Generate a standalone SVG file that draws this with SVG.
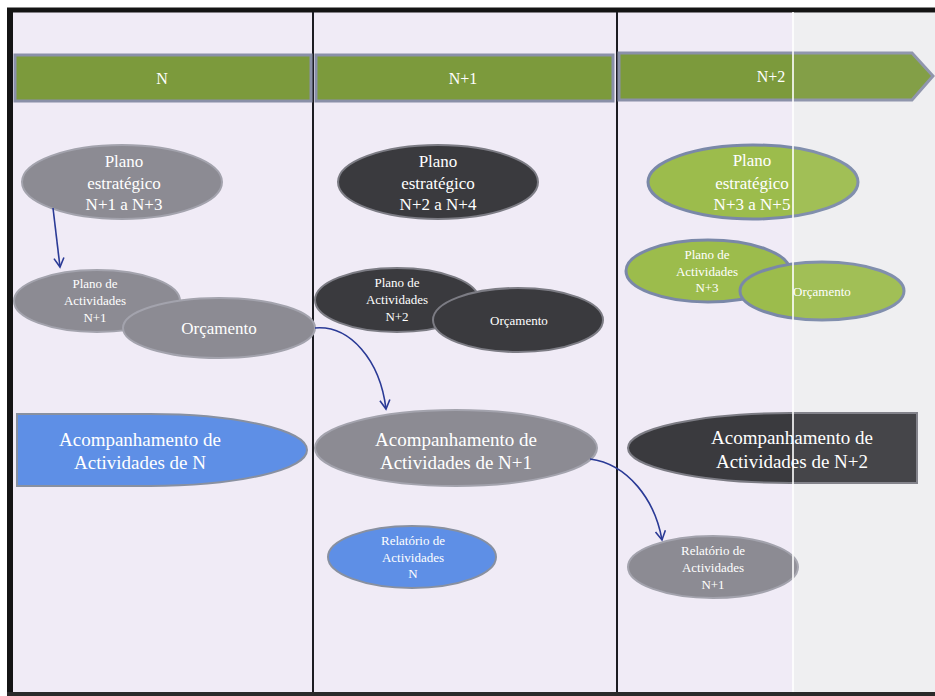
<svg xmlns="http://www.w3.org/2000/svg" width="935" height="696" viewBox="0 0 935 696">
  <defs>
    <style>
      .bg { fill: #f0ebf6; }
      .band { fill: #7c9a3c; stroke: #8a90a8; stroke-width: 3; }
      .lane { stroke: #1c1c22; stroke-width: 2; }
      .gray { fill: #8c8b93; stroke: #a3a3ad; stroke-width: 2; }
      .dark { fill: #3a3a3e; stroke: #7c7c84; stroke-width: 2; }
      .green { fill: #9cbc4c; stroke: #7a88a8; stroke-width: 3; }
      .blue { fill: #5e8fe6; stroke: #8890a0; stroke-width: 2; }
      .t { font-family: "Liberation Serif", "DejaVu Serif", "Times New Roman", serif; fill: #ffffff; text-anchor: middle; }
      .h { font-size: 16px; }
      .l { font-size: 17px; }
      .m { font-size: 13px; }
      .x { font-size: 19px; }
      .conn { fill: none; stroke: #2a3a96; stroke-width: 1.6; }
    </style>
    <marker id="open" viewBox="0 0 12 12" refX="10" refY="6" markerWidth="12" markerHeight="12" markerUnits="userSpaceOnUse" orient="auto">
      <path d="M1,1 L10,6 L1,11" fill="none" stroke="#2a3a96" stroke-width="1.6"/>
    </marker>
  </defs>

  <!-- page and frame -->
  <rect x="0" y="0" width="935" height="696" fill="#ffffff"/>
  <rect class="bg" x="10" y="10" width="925" height="684"/>
  <rect x="793" y="12" width="142" height="680" fill="#eeeff1"/>
  <line x1="7" y1="10" x2="935" y2="10" stroke="#141414" stroke-width="5"/>
  <line x1="10" y1="8" x2="10" y2="696" stroke="#141414" stroke-width="6"/>
  <line x1="7" y1="694" x2="935" y2="694" stroke="#2a2a2a" stroke-width="4"/>

  <!-- swimlane separators -->
  <line class="lane" x1="313" y1="12" x2="313" y2="692"/>
  <line class="lane" x1="617" y1="12" x2="617" y2="692"/>

  <!-- year bands -->
  <g id="band-n">
    <rect class="band" x="15" y="55" width="296" height="46"/>
    <text class="t h" x="162" y="84">N</text>
  </g>
  <g id="band-n1">
    <rect class="band" x="316" y="55" width="297" height="46"/>
    <text class="t h" x="463" y="84">N+1</text>
  </g>
  <g id="band-n2">
    <path class="band" d="M619,53 H912 L933,76 L912,100 H619 Z"/>
    <text class="t h" x="771" y="82">N+2</text>
  </g>

  <!-- year N -->
  <g id="plano-estrategico-n">
    <ellipse class="gray" cx="122" cy="182" rx="100" ry="37"/>
    <text class="t l" x="124" y="167">Plano</text>
    <text class="t l" x="124" y="189">estratégico</text>
    <text class="t l" x="124" y="210">N+1 a N+3</text>
  </g>
  <g id="plano-actividades-n">
    <ellipse class="gray" cx="97" cy="301" rx="83" ry="31"/>
    <text class="t m" x="95" y="288">Plano de</text>
    <text class="t m" x="95" y="305">Actividades</text>
    <text class="t m" x="95" y="322">N+1</text>
  </g>
  <g id="orcamento-n">
    <ellipse class="gray" cx="219" cy="328" rx="96" ry="30"/>
    <text class="t l" x="219" y="334">Orçamento</text>
  </g>
  <g id="acompanhamento-n">
    <path class="blue" d="M17,414 H150 A157,36 0 0 1 150,486 H17 Z"/>
    <text class="t x" x="140" y="446">Acompanhamento de</text>
    <text class="t x" x="140" y="469">Actividades de N</text>
  </g>

  <!-- year N+1 -->
  <g id="plano-estrategico-n1">
    <ellipse class="dark" cx="438" cy="182" rx="100" ry="37"/>
    <text class="t l" x="438" y="167">Plano</text>
    <text class="t l" x="438" y="189">estratégico</text>
    <text class="t l" x="438" y="210">N+2 a N+4</text>
  </g>
  <g id="plano-actividades-n1">
    <ellipse class="dark" cx="397" cy="300" rx="82" ry="32"/>
    <text class="t m" x="397" y="287">Plano de</text>
    <text class="t m" x="397" y="304">Actividades</text>
    <text class="t m" x="397" y="321">N+2</text>
  </g>
  <g id="orcamento-n1">
    <ellipse class="dark" cx="518" cy="320" rx="85" ry="32"/>
    <text class="t m" x="519" y="325">Orçamento</text>
  </g>
  <g id="acompanhamento-n1">
    <ellipse class="gray" cx="456" cy="448" rx="141" ry="38"/>
    <text class="t x" x="456" y="446">Acompanhamento de</text>
    <text class="t x" x="456" y="469">Actividades de N+1</text>
  </g>
  <g id="relatorio-n">
    <ellipse class="blue" cx="412" cy="557" rx="84" ry="31"/>
    <text class="t m" x="413" y="545">Relatório de</text>
    <text class="t m" x="413" y="562">Actividades</text>
    <text class="t m" x="413" y="578">N</text>
  </g>

  <!-- year N+2 -->
  <g id="plano-estrategico-n2">
    <ellipse class="green" cx="753" cy="182" rx="105" ry="37"/>
    <text class="t l" x="752" y="166">Plano</text>
    <text class="t l" x="752" y="189">estratégico</text>
    <text class="t l" x="752" y="210">N+3 a N+5</text>
  </g>
  <g id="plano-actividades-n2">
    <ellipse class="green" cx="708" cy="271" rx="82" ry="31"/>
    <text class="t m" x="707" y="259">Plano de</text>
    <text class="t m" x="707" y="276">Actividades</text>
    <text class="t m" x="707" y="292">N+3</text>
  </g>
  <g id="orcamento-n2">
    <ellipse class="green" cx="822" cy="291" rx="82" ry="29"/>
    <text class="t m" x="822" y="296">Orçamento</text>
  </g>
  <g id="acompanhamento-n2">
    <path class="dark" d="M917,413 H790 A162,35 0 0 0 790,483 H917 Z"/>
    <text class="t x" x="792" y="444">Acompanhamento de</text>
    <text class="t x" x="792" y="468">Actividades de N+2</text>
  </g>
  <g id="relatorio-n1">
    <ellipse class="gray" cx="713" cy="567" rx="85" ry="31"/>
    <text class="t m" x="713" y="555">Relatório de</text>
    <text class="t m" x="713" y="572">Actividades</text>
    <text class="t m" x="713" y="589">N+1</text>
  </g>

  <!-- connectors -->
  <g id="connectors">
    <path class="conn" d="M53,208 L60,267" marker-end="url(#open)"/>
    <path class="conn" d="M315,328 C350,325 380,360 386,409" marker-end="url(#open)"/>
    <path class="conn" d="M590,459 C628,464 655,500 662,540" marker-end="url(#open)"/>
  </g>

  <!-- pale strip at the right edge -->
  <rect x="793" y="12" width="142" height="680" fill="#ffffff" fill-opacity="0.06"/>
  <line x1="793" y1="12" x2="793" y2="692" stroke="#ffffff" stroke-width="2" stroke-opacity="0.8"/>
</svg>
